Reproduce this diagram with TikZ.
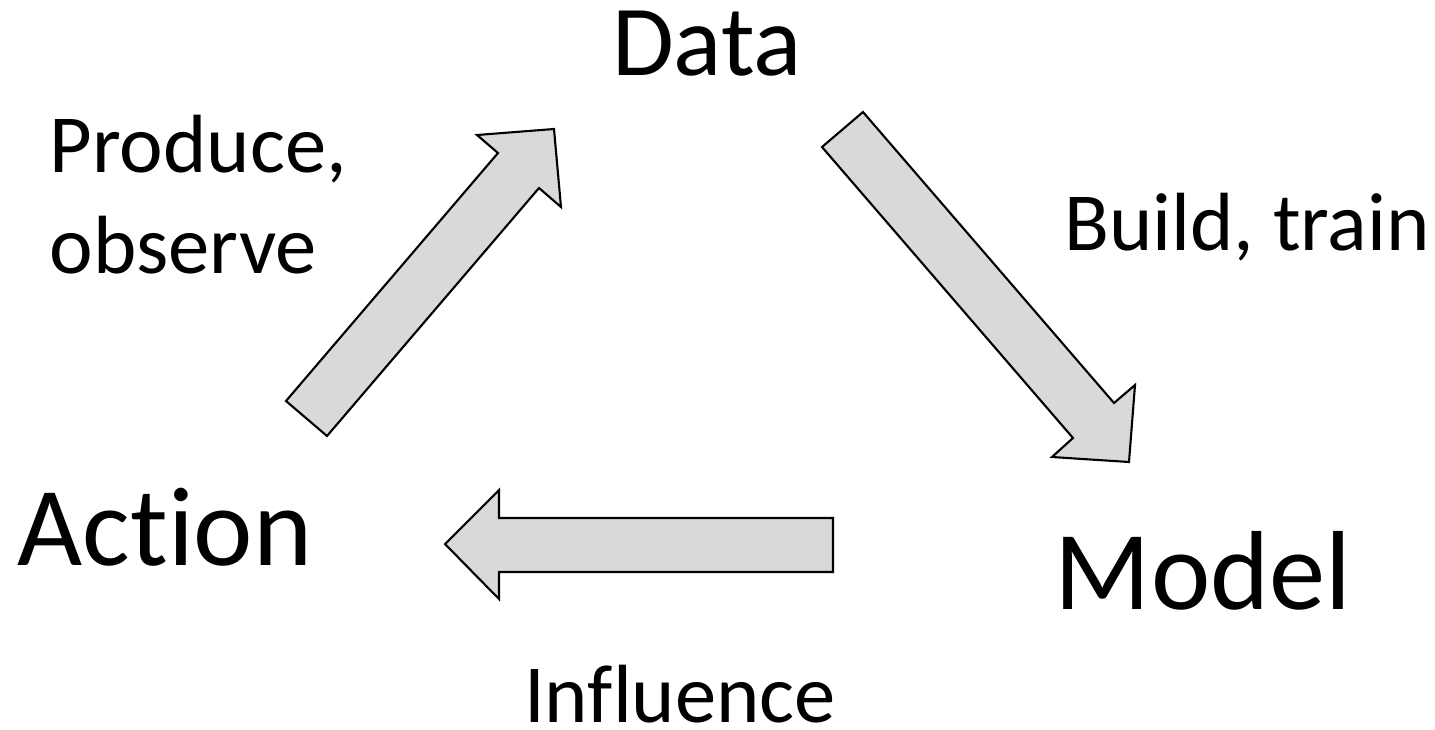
\documentclass[tikz,border=0pt]{standalone}
\usepackage{fontspec}
\setmainfont{Carlito}[Ligatures=NoCommon]
\definecolor{color_arrow_fill}{HTML}{D9D9D9}
\tikzset{
    bigword/.style={inner sep=0pt, anchor=base, font=\fontsize{32}{38}\selectfont},
    smallword/.style={inner sep=0pt, anchor=base, font=\fontsize{23.5}{28.5}\selectfont},
    blockarrow/.style={draw=black, fill=color_arrow_fill, line width=0.6pt, line join=miter}
}

\begin{document}
\begin{tikzpicture}[x=0.1mm, y=-0.1mm]
            \useasboundingbox (0,0) rectangle (1435,729);
            % the three stages
            \node[bigword, font=\fontsize{28.6}{34}\selectfont] (data) at (707,75) {Data};
            \node[bigword] (model) at (1203,609) {Model};
            \node[bigword] (action) at (165,565) {Action};
            % block arrows
            \draw[blockarrow] (286,401) -- (498,153) -- (477,135) -- (554,129) -- (561,207) -- (539,188) -- (327,436) -- cycle;
            \draw[blockarrow] (863,112) -- (1114,403) -- (1135,385) -- (1129,462) -- (1052,457) -- (1073,438) -- (822,147) -- cycle;
            \draw[blockarrow] (833,518) -- (499,518) -- (499,490) -- (445,544) -- (499,599) -- (499,572) -- (833,572) -- cycle;
            % labels of the arrows
            \node[smallword, anchor=base west, align=left] (produce) at (49,273) {Produce,\\observe};
            \node[smallword] (build) at (1247,250) {Build, train};
            \node[smallword] (influence) at (680,722) {Influence};
    \end{tikzpicture}
\end{document}
